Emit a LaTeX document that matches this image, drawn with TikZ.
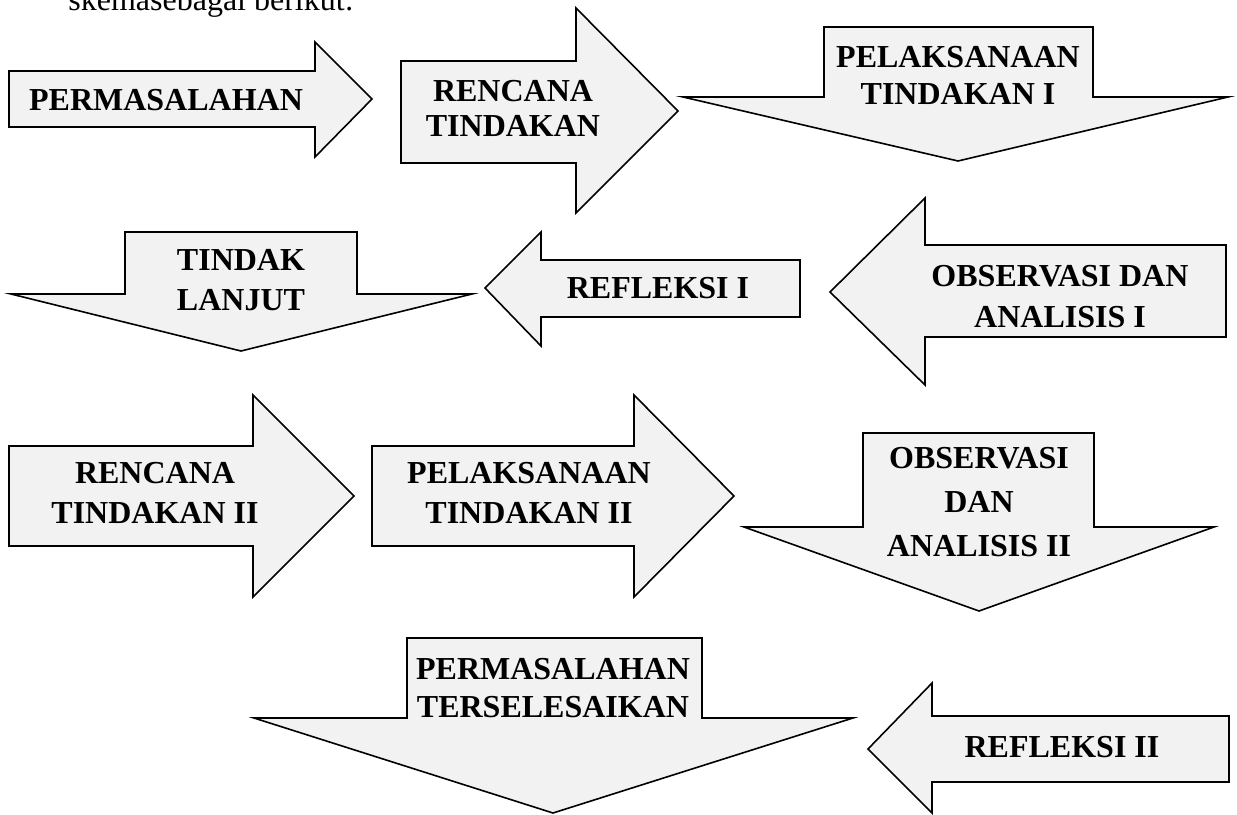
\documentclass[tikz,border=0pt]{standalone}
\usepackage{fontspec}
\setmainfont{Liberation Serif}
\usepackage{xcolor}
\usepackage{tikz}
\definecolor{abu}{HTML}{F2F2F2}

\begin{document}
\begin{tikzpicture}[x=0.5pt,y=-0.5pt,
    blok/.style={draw=black, fill=abu, line width=0.8pt, line join=miter},
    teks/.style={align=center, inner sep=0pt, font=\fontsize{16}{#1}\selectfont\bfseries},
    teks/.default=19.5]
            \useasboundingbox (0,0) rectangle (1237,814);
            \clip (0,0) rectangle (1237,814);
            \node[anchor=base west, inner sep=0pt, font=\fontsize{16}{19}\selectfont] (judul) at (68,10) {skemasebagai berikut:};

            \draw[blok] (9,71) -- (315,71) -- (315,42) -- (372,99) -- (315,157) -- (315,127) -- (9,127) -- cycle;
            \node[teks] (masalah) at (166,100) {PERMASALAHAN};

            \draw[blok] (401,61) -- (576,61) -- (576,8) -- (678,111) -- (576,213) -- (576,163) -- (401,163) -- cycle;
            \node[teks=17.5] (rencana) at (513,108) {RENCANA\\TINDAKAN};

            \draw[blok] (824,27) -- (1093,27) -- (1093,97) -- (1228,97) -- (958,161) -- (683,97) -- (824,97) -- cycle;
            \node[teks=18.5] (laksana) at (958,75) {PELAKSANAAN\\TINDAKAN I};

            \draw[blok] (125,232) -- (357,232) -- (357,294) -- (472,294) -- (241,351) -- (11,294) -- (125,294) -- cycle;
            \node[teks=20] (lanjut) at (241,280) {TINDAK\\LANJUT};

            \draw[blok] (485,288) -- (541,232) -- (541,260) -- (800,260) -- (800,317) -- (541,317) -- (541,346) -- cycle;
            \node[teks] (refleksi) at (658,288) {REFLEKSI I};

            \draw[blok] (830,292) -- (925,198) -- (925,245) -- (1226,245) -- (1226,337) -- (925,337) -- (925,385) -- cycle;
            \node[teks=20.5] (observasi) at (1060,297) {OBSERVASI DAN\\ANALISIS I};

            \draw[blok] (9,446) -- (253,446) -- (253,395) -- (354,496) -- (253,597) -- (253,546) -- (9,546) -- cycle;
            \node[teks=20] (rencanadua) at (155,493) {RENCANA\\TINDAKAN II};

            \draw[blok] (372,446) -- (634,446) -- (634,395) -- (734,496) -- (634,597) -- (634,546) -- (372,546) -- cycle;
            \node[teks=20] (laksanadua) at (529,493) {PELAKSANAAN\\TINDAKAN II};

            \draw[blok] (863,433) -- (1094,433) -- (1094,527) -- (1214,527) -- (979,611) -- (744,527) -- (863,527) -- cycle;
            \node[teks=22] (observasidua) at (979,502) {OBSERVASI\\DAN\\ANALISIS II};

            \draw[blok] (407,638) -- (702,638) -- (702,718) -- (853,718) -- (553,813) -- (254,718) -- (407,718) -- cycle;
            \node[teks=19] (selesai) at (553,688) {PERMASALAHAN\\TERSELESAIKAN};

            \draw[blok] (868,749) -- (932,683) -- (932,716) -- (1229,716) -- (1229,782) -- (932,782) -- (932,813) -- cycle;
            \node[teks] (refleksidua) at (1062,747) {REFLEKSI II};
          \end{tikzpicture}
\end{document}
